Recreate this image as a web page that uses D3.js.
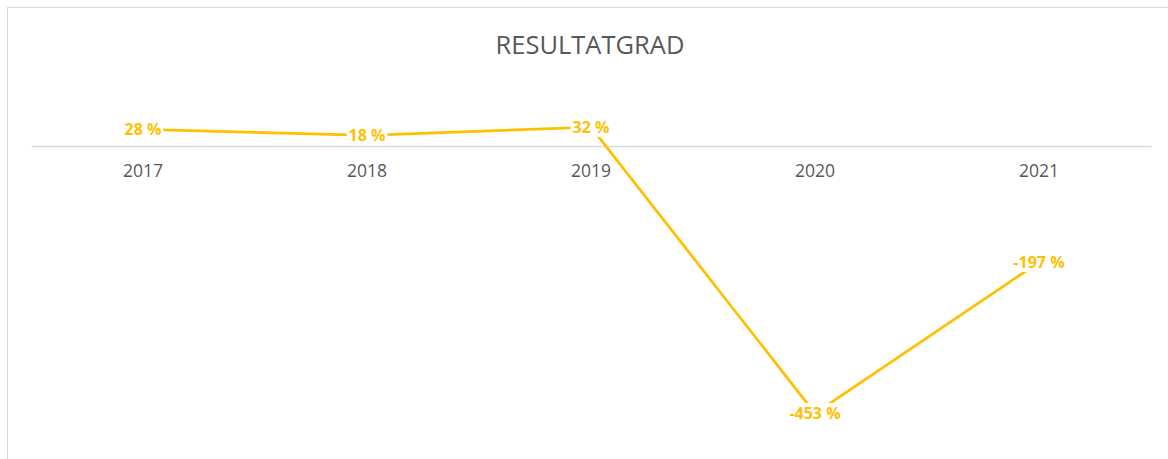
<!DOCTYPE html>
<html lang="no">
<head>
<meta charset="UTF-8">
<title>Resultatgrad</title>
<script src="https://cdn.jsdelivr.net/npm/d3@7"></script>
<style>
  body { margin: 0; background: #fff; }
  svg { display: block; font-family: "Open Sans", sans-serif; }
</style>
</head>
<body>
<svg id="chart"></svg>
<script>
const years = ["2017", "2018", "2019", "2020", "2021"]
const resultatgrad = [28, 18, 32, -453, -197]

const width = 1168
const height = 459

const svg = d3.select('#chart')
    .attr('width', width)
    .attr('height', height)

// chart frame (runs past the right and bottom edge)
svg.append('rect')
    .attr('x', 7.5).attr('y', 7.5)
    .attr('width', 1175).attr('height', 470)
    .attr('fill', '#fff')
    .attr('stroke', '#d9d9d9')

svg.append('text')
    .attr('x', 590).attr('y', 54)
    .attr('text-anchor', 'middle')
    .attr('fill', '#595959')
    .style('font-size', '25.5px')
    .text('RESULTATGRAD')

const x = d3.scaleBand().domain(years).range([31, 1151])
const y = d3.scaleLinear().domain([-500, 100]).range([441, 87])

// category axis sits on zero
const axis = svg.append('g')
    .attr('transform', `translate(0,${y(0)})`)
    .call(d3.axisBottom(x).tickSize(0).tickPadding(19))
axis.select('.domain').attr('stroke', '#d9d9d9').attr('stroke-width', 1.5)
axis.selectAll('text')
    .attr('fill', '#595959')
    .style('font-size', '17.5px')
    .style('font-family', '"Open Sans", sans-serif')

const points = years.map((yr, i) => ({ yr, v: resultatgrad[i] }))

const line = d3.line()
    .x(d => x(d.yr) + x.bandwidth() / 2)
    .y(d => y(d.v))

svg.append('path')
    .datum(points)
    .attr('d', line)
    .attr('fill', 'none')
    .attr('stroke', '#ffc000')
    .attr('stroke-width', 2.75)

// data labels centred on the points with a white box behind
const labels = svg.append('g').selectAll('g')
    .data(points)
    .join('g')
    .attr('transform', d => `translate(${x(d.yr) + x.bandwidth() / 2},${y(d.v)})`)

labels.append('text')
    .attr('text-anchor', 'middle')
    .attr('dy', '0.36em')
    .attr('fill', '#ffc000')
    .style('font-size', '16px')
    .style('font-weight', 'bold')
    .text(d => d.v + '\u00a0%')

labels.insert('rect', 'text')
    .each(function () {
        const bb = this.parentNode.querySelector('text').getBBox()
        d3.select(this)
            .attr('x', bb.x - 2).attr('y', bb.y + 1)
            .attr('width', bb.width + 4).attr('height', bb.height - 2)
    })
    .attr('fill', '#fff')
</script>
</body>
</html>
